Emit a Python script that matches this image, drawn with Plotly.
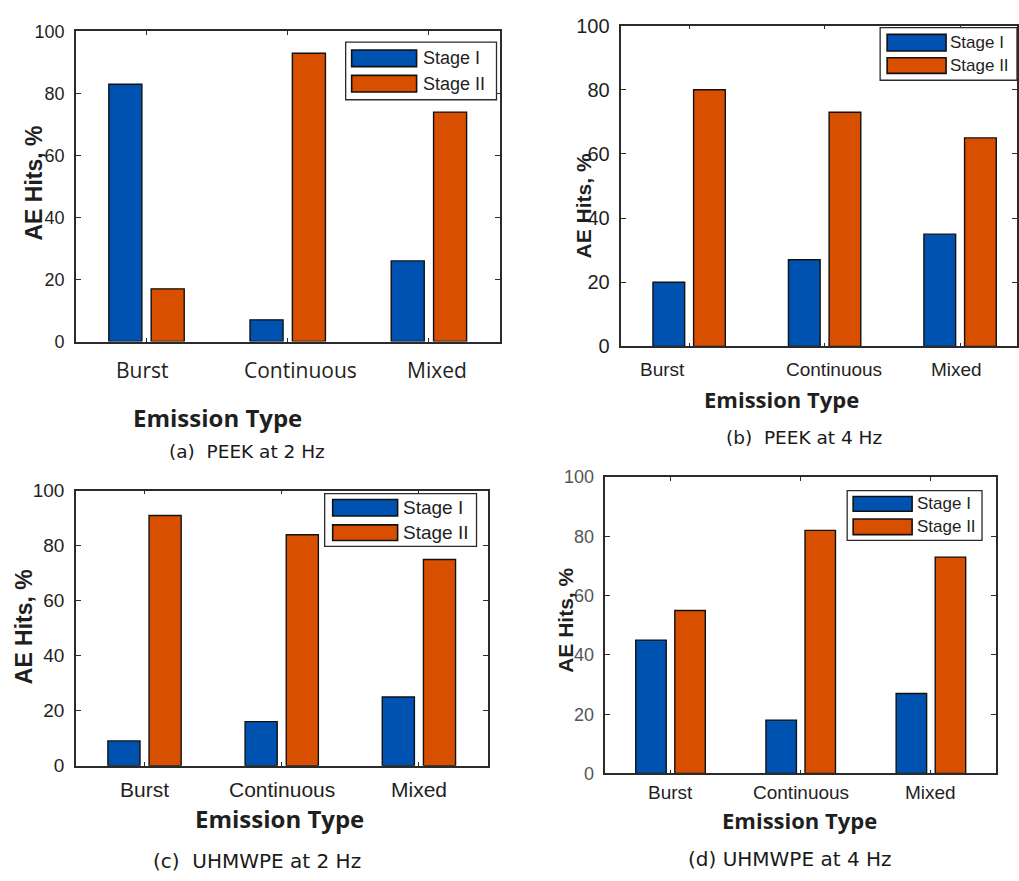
import plotly.graph_objects as go

# ---- data -------------------------------------------------------------
categories = ["Burst", "Continuous", "Mixed"]
series_names = ["Stage I", "Stage II"]

peek_2hz_stage1 = [83, 7, 26]
peek_2hz_stage2 = [17, 93, 74]
peek_4hz_stage1 = [20, 27, 35]
peek_4hz_stage2 = [80, 73, 65]
uhmwpe_2hz_stage1 = [9, 16, 25]
uhmwpe_2hz_stage2 = [91, 84, 75]
uhmwpe_4hz_stage1 = [45, 18, 27]
uhmwpe_4hz_stage2 = [55, 82, 73]

captions = ["(a)\u00a0\u00a0PEEK at 2 Hz", "(b)\u00a0\u00a0PEEK at 4 Hz",
            "(c)\u00a0\u00a0UHMWPE at 2 Hz", "(d) UHMWPE at 4 Hz"]
y_ticks = [0, 20, 40, 60, 80, 100]

# ---- styling ----------------------------------------------------------
W, H = 1019, 881
BLUE = "#0052b0"
ORANGE = "#d94f00"
AXIS = "#2b2b2b"
TEXT = "#1f1f1f"
ARIAL = "Liberation Sans, Arial, sans-serif"
OPEN = "Open Sans, sans-serif"
CAPTION = "DejaVu Sans, sans-serif"


def px(x):
    return x / W


def py(y):
    return 1 - y / H


# per-panel layout (pixel boxes, text placement, font sizes)
panels = [
    dict(stage1=peek_2hz_stage1, stage2=peek_2hz_stage2, caption=captions[0],
         box=(76, 500, 21, 339), xmax=2.5,
         lab_off=[-0.025, 0.09, 0.06], lab_y=368, lab_font=OPEN, lab_size=21,
         tick_size=18, tick_color=TEXT,
         ytitle=(34, 176, 23), xtitle=(218, 417, 24), cap=(247, 452, 18.5),
         legend=dict(box=(346, 497, 32, 91), sw=(352, 417), rows=[(40, 57), (66, 83)],
                     text_x=421, size=18)),
    dict(stage1=peek_4hz_stage1, stage2=peek_4hz_stage2, caption=captions[1],
         box=(622, 1018, 15, 344), xmax=2.42,
         lab_off=[-0.2, 0.07, -0.03], lab_y=368, lab_font=ARIAL, lab_size=19,
         tick_size=20, tick_color=TEXT,
         ytitle=(584, 200, 21), xtitle=(782, 398, 22), cap=(805, 437, 18.5),
         legend=dict(box=(881, 1018, 17, 71), sw=(888, 947), rows=[(24, 41), (48, 64)],
                     text_x=949, size=17)),
    dict(stage1=uhmwpe_2hz_stage1, stage2=uhmwpe_2hz_stage2, caption=captions[2],
         box=(76, 488, 492, 774), xmax=2.5,
         lab_off=[0, 0, 0], lab_y=798, lab_font=ARIAL, lab_size=21,
         tick_size=19, tick_color=TEXT,
         ytitle=(24, 631, 23), xtitle=(280, 828, 24), cap=(257, 872, 20),
         legend=dict(box=(325, 477, 495, 549), sw=(333, 398), rows=[(501, 518), (527, 543)],
                     text_x=401, size=19)),
    dict(stage1=uhmwpe_4hz_stage1, stage2=uhmwpe_4hz_stage2, caption=captions[3],
         box=(606, 997, 478, 782), xmax=2.5,
         lab_off=[0, 0, 0], lab_y=802, lab_font=ARIAL, lab_size=19,
         tick_size=18, tick_color="#555555",
         ytitle=(566, 625, 21), xtitle=(800, 830, 22), cap=(791, 870, 20),
         legend=dict(box=(848, 983, 492, 543), sw=(854, 913), rows=[(498, 513), (521, 537)],
                     text_x=916, size=17)),
]

fig = go.Figure()
shapes = []
annotations = []
layout_axes = {}
positions = list(range(len(categories)))

for k, p in enumerate(panels, start=1):
    xa = "x" if k == 1 else f"x{k}"
    ya = "y" if k == 1 else f"y{k}"
    L, R, T, B = p["box"]

    for name, vals, color in [(series_names[0], p["stage1"], BLUE),
                              (series_names[1], p["stage2"], ORANGE)]:
        fig.add_trace(go.Bar(
            x=positions, y=vals, name=name, xaxis=xa, yaxis=ya,
            marker=dict(color=color, line=dict(color="#111111", width=1.4)),
            showlegend=False,
        ))

    layout_axes[f"xaxis{'' if k == 1 else k}"] = dict(
        domain=[px(L), px(R)], anchor=ya, range=[-0.5, p["xmax"]],
        tickvals=positions, showticklabels=False, ticks="inside", ticklen=4,
        tickcolor=AXIS, showline=True, linecolor=AXIS, linewidth=1.5,
        mirror="ticks", showgrid=False, zeroline=False, fixedrange=True,
    )
    layout_axes[f"yaxis{'' if k == 1 else k}"] = dict(
        domain=[py(B), py(T)], anchor=xa, range=[0, 100],
        tickvals=y_ticks, ticks="inside", ticklen=5, tickcolor=AXIS,
        showline=True, linecolor=AXIS, linewidth=1.5, mirror="ticks",
        showgrid=False, zeroline=False, ticklabelstandoff=6,
        tickfont=dict(family=ARIAL, size=p["tick_size"], color=p["tick_color"]),
    )

    # category labels under each group
    for i, cat in enumerate(categories):
        annotations.append(dict(
            x=i + p["lab_off"][i], xref=xa, y=py(p["lab_y"]), yref="paper",
            text=cat, showarrow=False, xanchor="center", yanchor="middle",
            font=dict(family=p["lab_font"], size=p["lab_size"], color=TEXT),
        ))

    # axis titles and caption
    tx, ty, ts = p["ytitle"]
    annotations.append(dict(
        x=px(tx), y=py(ty), xref="paper", yref="paper", text="<b>AE Hits, %</b>",
        textangle=-90, showarrow=False, xanchor="center", yanchor="middle",
        font=dict(family=ARIAL, size=ts, color=TEXT),
    ))
    tx, ty, ts = p["xtitle"]
    annotations.append(dict(
        x=px(tx), y=py(ty), xref="paper", yref="paper", text="<b>Emission Type</b>",
        showarrow=False, xanchor="center", yanchor="middle",
        font=dict(family=OPEN, size=ts, color=TEXT),
    ))
    tx, ty, ts = p["cap"]
    annotations.append(dict(
        x=px(tx), y=py(ty), xref="paper", yref="paper", text=p["caption"],
        showarrow=False, xanchor="center", yanchor="middle",
        font=dict(family=CAPTION, size=ts, color="#1a1a1a"),
    ))

    # legend box with wide colour swatches
    lg = p["legend"]
    bl, br, bt, bb = lg["box"]
    shapes.append(dict(type="rect", xref="paper", yref="paper",
                       x0=px(bl), x1=px(br), y0=py(bb), y1=py(bt),
                       line=dict(color=AXIS, width=1.3), fillcolor="white", layer="above"))
    for (r0, r1), name, color in zip(lg["rows"], series_names, [BLUE, ORANGE]):
        shapes.append(dict(type="rect", xref="paper", yref="paper",
                           x0=px(lg["sw"][0]), x1=px(lg["sw"][1]), y0=py(r1), y1=py(r0),
                           line=dict(color="#111111", width=1.6), fillcolor=color,
                           layer="above"))
        annotations.append(dict(
            x=px(lg["text_x"]), y=py((r0 + r1) / 2), xref="paper", yref="paper",
            text=name, showarrow=False, xanchor="left", yanchor="middle",
            font=dict(family=ARIAL, size=lg["size"], color=TEXT),
        ))

fig.update_layout(
    width=W, height=H, margin=dict(l=0, r=0, t=0, b=0),
    paper_bgcolor="white", plot_bgcolor="white",
    barmode="group", bargap=0.4, bargroupgap=0.22,
    shapes=shapes, annotations=annotations, showlegend=False,
    **layout_axes,
)

fig.write_html("out.html")
